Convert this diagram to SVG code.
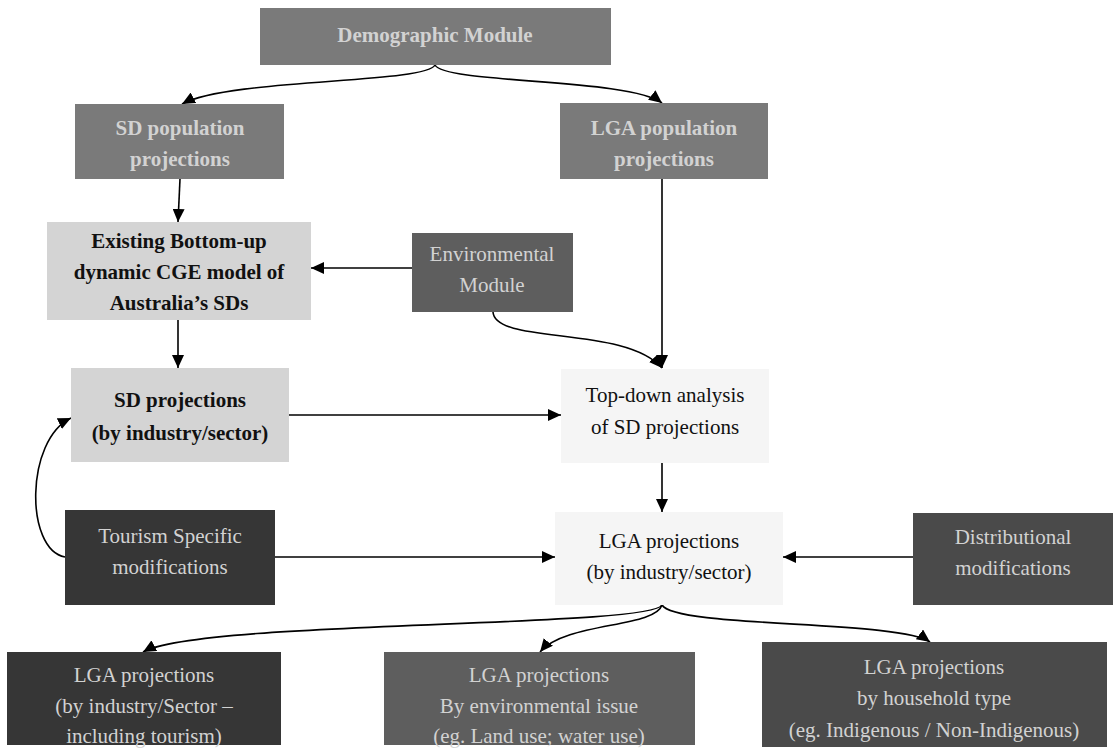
<svg xmlns="http://www.w3.org/2000/svg" width="1113" height="755" viewBox="0 0 1113 755">
<defs>
<marker id="ah" markerUnits="userSpaceOnUse" markerWidth="14" markerHeight="12" refX="13" refY="6" orient="auto">
<path d="M0,0 L13,6 L0,12 Z" fill="#000"/>
</marker>
<style>
text{font-family:"Liberation Serif","Times New Roman",serif;font-size:21px;text-anchor:middle}
.b{font-weight:bold}
.lt{fill:#d2d2d2}
.dk{fill:#111}
.c{fill:none;stroke:#000;stroke-width:1.6;marker-end:url(#ah)}
</style>
</defs>
<rect width="1113" height="755" fill="#fff"/>
<g id="connectors">
<path class="c" d="M435,65 C425,84 230,78 182,104"/>
<path class="c" d="M435,65 C445,84 630,78 662,103"/>
<path class="c" d="M180,179 L178,222"/>
<path class="c" d="M412,268 L311,268"/>
<path class="c" d="M178,320 L178,368"/>
<path class="c" d="M289,415 L561,415"/>
<path class="c" d="M662,179 L662,368"/>
<path class="c" d="M493,312 C495,345 625,325 662,368"/>
<path class="c" d="M662,463 L662,512"/>
<path class="c" d="M275,557 L555,557"/>
<path class="c" d="M913,557 L783,557"/>
<path class="c" d="M65,557 C25,550 25,440 71,418"/>
<path class="c" d="M662,605 C650,628 200,620 143,652"/>
<path class="c" d="M662,605 C655,628 565,622 540,652"/>
<path class="c" d="M662,605 C675,628 900,620 930,642"/>
</g>
<g id="demographic">
<rect x="260" y="8" width="351" height="57" fill="#7a7a7a"/>
<text class="b lt" x="435" y="42">Demographic Module</text>
</g>
<g id="sd-pop">
<rect x="75" y="104" width="209" height="75" fill="#7a7a7a"/>
<text class="b lt" x="180" y="135">SD population</text>
<text class="b lt" x="180" y="166">projections</text>
</g>
<g id="lga-pop">
<rect x="560" y="103" width="208" height="76" fill="#7a7a7a"/>
<text class="b lt" x="664" y="135">LGA population</text>
<text class="b lt" x="664" y="166">projections</text>
</g>
<g id="existing">
<rect x="47" y="222" width="264" height="98" fill="#d4d4d4"/>
<text class="b dk" x="179" y="248">Existing Bottom-up</text>
<text class="b dk" x="179" y="279">dynamic CGE model of</text>
<text class="b dk" x="179" y="310">Australia’s SDs</text>
</g>
<g id="environmental">
<rect x="412" y="233" width="161" height="79" fill="#5e5e5e"/>
<text class="lt" x="492" y="261">Environmental</text>
<text class="lt" x="492" y="292">Module</text>
</g>
<g id="sd-proj">
<rect x="71" y="368" width="218" height="94" fill="#d4d4d4"/>
<text class="b dk" x="180" y="407">SD projections</text>
<text class="b dk" x="180" y="440">(by industry/sector)</text>
</g>
<g id="top-down">
<rect x="561" y="369" width="208" height="94" fill="#f5f5f5"/>
<text class="dk" x="665" y="402">Top-down analysis</text>
<text class="dk" x="665" y="434">of SD projections</text>
</g>
<g id="tourism">
<rect x="65" y="510" width="210" height="95" fill="#363636"/>
<text class="lt" x="170" y="543">Tourism Specific</text>
<text class="lt" x="170" y="574">modifications</text>
</g>
<g id="lga-proj">
<rect x="555" y="512" width="228" height="93" fill="#f5f5f5"/>
<text class="dk" x="669" y="548">LGA projections</text>
<text class="dk" x="669" y="579">(by industry/sector)</text>
</g>
<g id="distributional">
<rect x="913" y="513" width="200" height="92" fill="#4a4a4a"/>
<text class="lt" x="1013" y="544">Distributional</text>
<text class="lt" x="1013" y="575">modifications</text>
</g>
<g id="out-industry">
<rect x="7" y="652" width="274" height="93" fill="#363636"/>
<text class="lt" x="144" y="682">LGA projections</text>
<text class="lt" x="144" y="713">(by industry/Sector –</text>
<text class="lt" x="144" y="743">including tourism)</text>
</g>
<g id="out-env">
<rect x="384" y="652" width="311" height="93" fill="#5e5e5e"/>
<text class="lt" x="539" y="682">LGA projections</text>
<text class="lt" x="539" y="713">By environmental issue</text>
<text class="lt" x="539" y="743">(eg. Land use; water use)</text>
</g>
<g id="out-household">
<rect x="762" y="642" width="345" height="105" fill="#4a4a4a"/>
<text class="lt" x="934" y="674">LGA projections</text>
<text class="lt" x="934" y="705">by household type</text>
<text class="lt" x="934" y="737">(eg. Indigenous / Non-Indigenous)</text>
</g>
</svg>
